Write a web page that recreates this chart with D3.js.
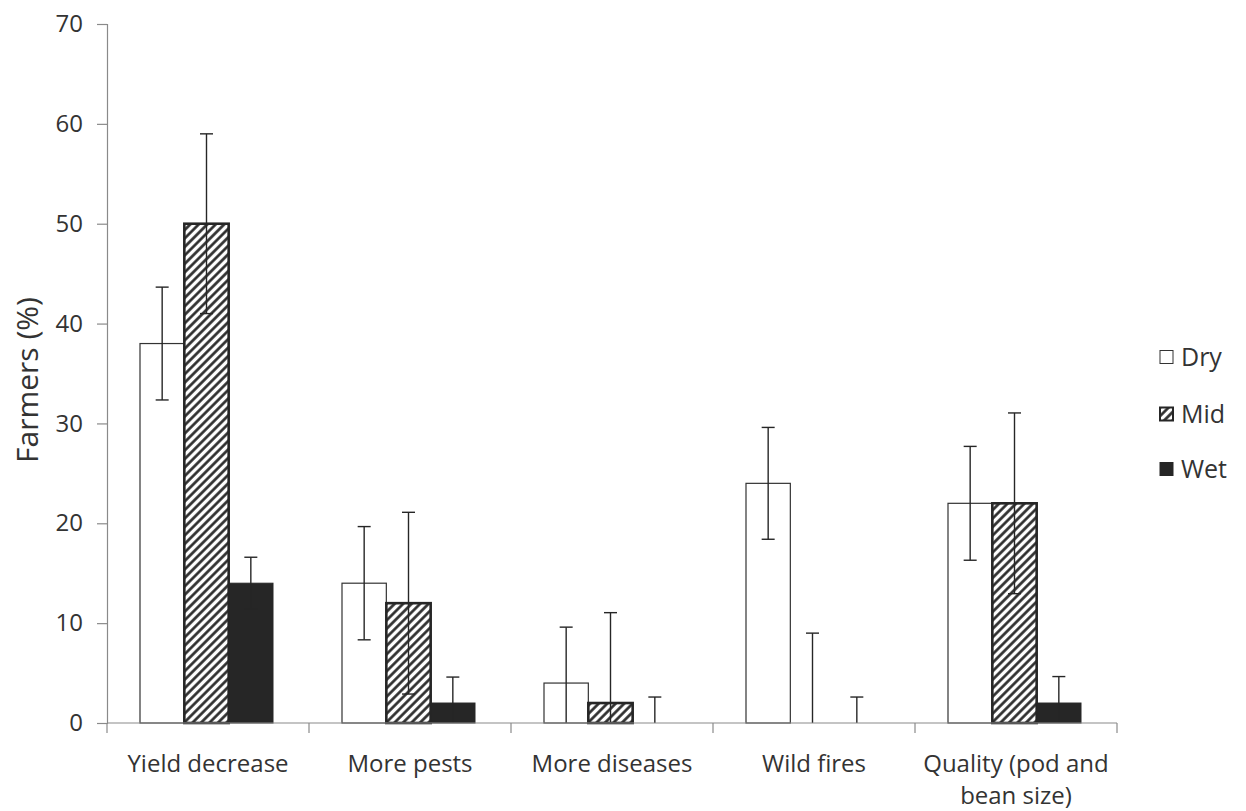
<!DOCTYPE html>
<html>
<head>
<meta charset="utf-8">
<script src="https://cdn.jsdelivr.net/npm/d3@7"></script>
<style>
  html, body { margin: 0; padding: 0; background: #fff; }
  svg { display: block; }
  text { font-family: "Open Sans", "Noto Sans", sans-serif; fill: #333; }
</style>
</head>
<body>
<script>
const categories = ["Yield decrease", "More pests", "More diseases", "Wild fires", "Quality (pod and\nbean size)"];
const seriesNames = ["Dry", "Mid", "Wet"];
const dryValues = [38, 14, 4, 24, 22];
const dryErrors = [5.65, 5.67, 5.6, 5.6, 5.7];
const midValues = [50, 12, 2, 0, 22];
const midErrors = [9, 9.1, 9.05, 9, 9.05];
const wetValues = [14, 2, 0, 0, 2];
const wetErrors = [2.6, 2.6, 2.6, 2.6, 2.65];
const yTicks = [0, 10, 20, 30, 40, 50, 60, 70];
const yLabel = "Farmers (%)";

const W = 1246, H = 811;
const svg = d3.select("body").append("svg").attr("width", W).attr("height", H);

const ink = "#262626";

const defs = svg.append("defs");
const pat = defs.append("pattern")
  .attr("id", "hatch").attr("patternUnits", "userSpaceOnUse")
  .attr("width", 6).attr("height", 6)
  .attr("patternTransform", "rotate(45)");
pat.append("rect").attr("width", 6).attr("height", 6).attr("fill", "#fff");
pat.append("line").attr("x1", 1.5).attr("y1", -1).attr("x2", 1.5).attr("y2", 7)
  .attr("stroke", ink).attr("stroke-width", 2.6);

const x0 = d3.scaleBand().domain(categories).range([107, 1117]).padding(0);
const x1 = d3.scaleBand().domain(seriesNames).range([33, 166]).padding(0);
const y = d3.scaleLinear().domain([0, 70]).range([723, 24]);

const data = categories.map((c, i) => ({
  cat: c,
  items: [
    { s: "Dry", v: dryValues[i], e: dryErrors[i] },
    { s: "Mid", v: midValues[i], e: midErrors[i] },
    { s: "Wet", v: wetValues[i], e: wetErrors[i] }
  ]
}));

const fillFor = { Dry: "#fff", Mid: "url(#hatch)", Wet: ink };
const strokeFor = { Dry: "#333", Mid: ink, Wet: ink };
const swFor = { Dry: 1.2, Mid: 2.6, Wet: 1 };

// Y axis
const yAxis = d3.axisLeft(y).tickValues(yTicks).tickSize(10).tickPadding(14);
const gy = svg.append("g").attr("transform", "translate(107,0)").call(yAxis);
gy.select(".domain").attr("stroke", "#8a8a8a").attr("stroke-width", 1.2);
gy.selectAll(".tick line").attr("stroke", "#8a8a8a").attr("stroke-width", 1.2);
gy.selectAll(".tick text").style("font-size", "24px").attr("fill", "#333");

// bars
const groups = svg.append("g").selectAll("g").data(data).join("g")
  .attr("transform", d => `translate(${x0(d.cat)},0)`);

groups.selectAll("rect").data(d => d.items.filter(it => it.v > 0)).join("rect")
  .attr("x", d => x1(d.s))
  .attr("y", d => y(d.v))
  .attr("width", x1.bandwidth())
  .attr("height", d => y(0) - y(d.v))
  .attr("fill", d => fillFor[d.s])
  .attr("stroke", d => strokeFor[d.s])
  .attr("stroke-width", d => swFor[d.s]);

// X axis
const xAxisG = svg.append("g");
xAxisG.append("line").attr("x1", 107).attr("x2", 1117).attr("y1", y(0)).attr("y2", y(0))
  .attr("stroke", "#8a8a8a").attr("stroke-width", 1.2);
const bounds = categories.map(c => x0(c)).concat([x0.range()[1]]);
xAxisG.selectAll("line.tk").data(bounds).join("line").attr("class", "tk")
  .attr("x1", d => d).attr("x2", d => d).attr("y1", y(0)).attr("y2", y(0) + 10)
  .attr("stroke", "#8a8a8a").attr("stroke-width", 1.2);

// error bars
const capW = 13;
groups.each(function(d) {
  const g = d3.select(this);
  d.items.forEach(it => {
    const cx = x1(it.s) + x1.bandwidth() / 2;
    const hi = it.v + it.e;
    const lo = Math.max(0, it.v - it.e);
    const eg = g.append("g").attr("stroke", ink).attr("stroke-width", 1.4);
    eg.append("line").attr("x1", cx).attr("x2", cx).attr("y1", y(lo)).attr("y2", y(hi));
    eg.append("line").attr("x1", cx - capW / 2).attr("x2", cx + capW / 2).attr("y1", y(hi)).attr("y2", y(hi));
    if (lo > 0) {
      eg.append("line").attr("x1", cx - capW / 2).attr("x2", cx + capW / 2).attr("y1", y(lo)).attr("y2", y(lo));
    }
  });
});

// category labels
const lab = svg.append("g").selectAll("text").data(categories).join("text")
  .attr("x", d => x0(d) + x0.bandwidth() / 2)
  .attr("y", 772)
  .attr("text-anchor", "middle")
  .style("font-size", "24px");
lab.each(function(d) {
  const lines = d.split("\n");
  const t = d3.select(this);
  lines.forEach((ln, i) => {
    t.append("tspan").attr("x", x0(d) + x0.bandwidth() / 2).attr("dy", i === 0 ? 0 : 32).text(ln);
  });
});

// y label
svg.append("text")
  .attr("transform", "translate(38,380) rotate(-90)")
  .attr("text-anchor", "middle")
  .style("font-size", "30px")
  .text(yLabel);

// legend
const legY = [357, 414, 469];
const leg = svg.append("g").selectAll("g").data(seriesNames).join("g")
  .attr("transform", (d, i) => `translate(1160,${legY[i]})`);
leg.append("rect").attr("x", 0).attr("y", -6.5).attr("width", 13).attr("height", 13)
  .attr("fill", d => fillFor[d])
  .attr("stroke", d => strokeFor[d])
  .attr("stroke-width", d => d === "Mid" ? 2 : 1);
leg.append("text").attr("x", 21).attr("y", 0).attr("dy", "0.36em")
  .style("font-size", "25px").text(d => d);
</script>
</body>
</html>
